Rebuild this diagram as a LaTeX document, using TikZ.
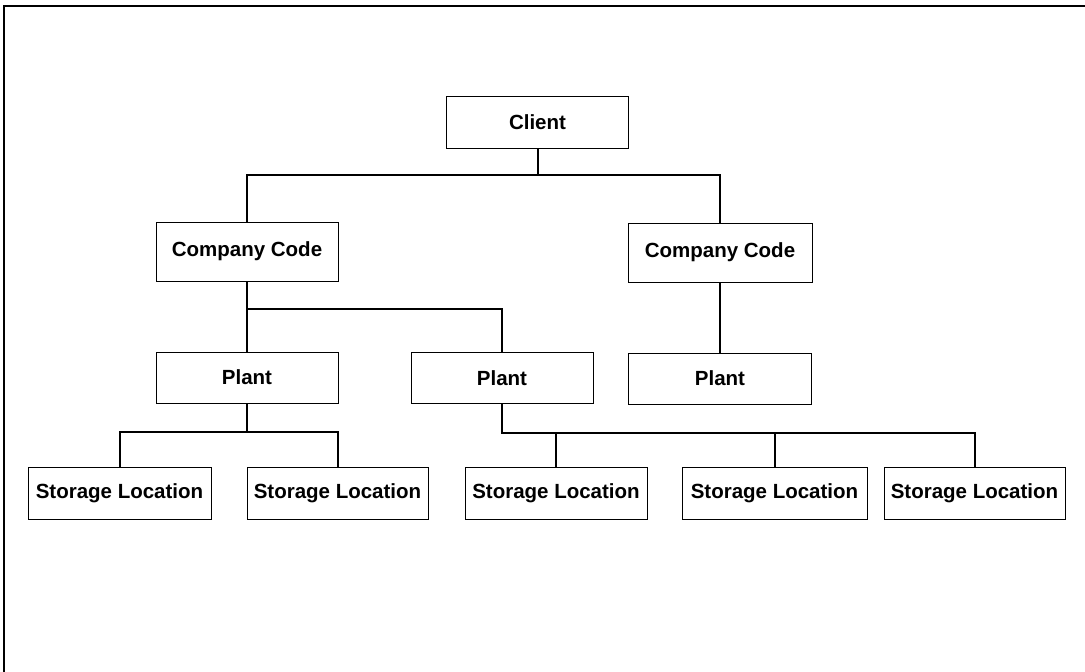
\documentclass[tikz,border=0pt]{standalone}
\usepackage{fontspec}
\setmainfont{Liberation Sans}
\usepackage{tikz}
\usetikzlibrary{positioning}
\tikzstyle{unit} = [rectangle, minimum width=182pt, minimum height=52pt, inner sep=0pt, text centered, draw=black, line width=0.9pt, fill=white]
\tikzstyle{company} = [unit, minimum height=59pt]
\tikzstyle{link} = [line width=2pt]
\tikzstyle{frame} = [line width=2pt]

\begin{document}
\begin{tikzpicture}[x=1pt, y=-1pt, every node/.style={font=\fontsize{20.5}{24}\selectfont\bfseries}]

\useasboundingbox (0,0) rectangle (1085,672);
\draw [frame] (4,672) -- (4,6) -- (1085,6);

\node (client) [unit] at (537.5,122) {Client};
\node (ccL) [company] at (247,251.5) {Company Code};
\node (ccR) [company, minimum width=184pt] at (720,252.5) {Company Code};

\node (plantL) [unit, minimum height=51pt] at (247,377.5) {Plant};
\node (plantM) [unit, minimum height=51pt] at (502,378) {Plant};
\node (plantR) [unit, minimum height=51pt, minimum width=183pt] at (720,378.5) {Plant};

\node (sl1) [unit, minimum width=183pt] at (119.5,493) {Storage Location};
\node (sl2) [unit, minimum width=181pt] at (337.5,493) {Storage Location};
\node (sl3) [unit] at (556,493) {Storage Location};
\node (sl4) [unit, minimum width=185pt] at (774.5,493) {Storage Location};
\node (sl5) [unit, minimum width=181pt] at (974.5,493) {Storage Location};

\draw [link] (client.south) -- ++(0,27) -| (ccL.north);
\draw [link] (client.south) -- ++(0,27) -| (ccR.north);
\draw [link] (ccL.south) -- ++(0,28) -| (plantL.north);
\draw [link] (ccL.south) -- ++(0,28) -| (plantM.north);
\draw [link, line width=2.6pt] (ccR) -- (plantR);
\draw [link] (plantL.south) -- ++(0,29) -| (sl1.north);
\draw [link] (plantL.south) -- ++(0,29) -| (sl2.north);
\draw [link] (plantM.south) -- ++(0,29) -| (sl3.north);
\draw [link] (plantM.south) -- ++(0,29) -| (sl4.north);
\draw [link] (plantM.south) -- ++(0,29) -| (sl5.north);

\end{tikzpicture}
\end{document}
